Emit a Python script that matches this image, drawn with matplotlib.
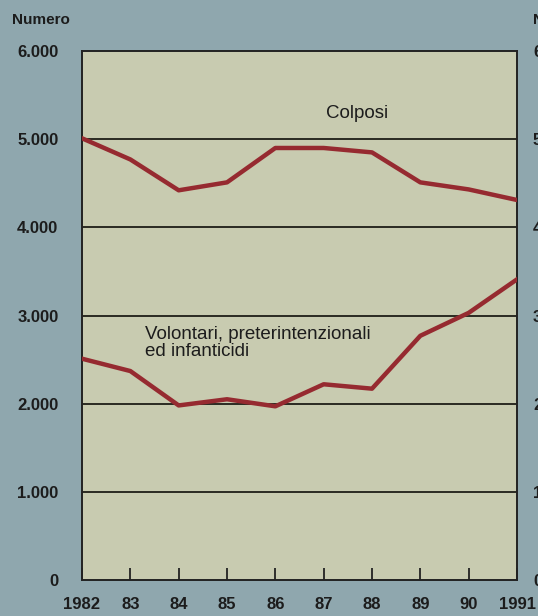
import matplotlib.pyplot as plt
import matplotlib.ticker as mticker

years = [1982, 1983, 1984, 1985, 1986, 1987, 1988, 1989, 1990, 1991]
year_labels = ['1982', '83', '84', '85', '86', '87', '88', '89', '90', '1991']
colposi = [5010, 4770, 4420, 4510, 4900, 4900, 4850, 4510, 4430, 4310]
volontari = [2510, 2370, 1980, 2050, 1970, 2220, 2170, 2770, 3030, 3410]
y_ticks = [0, 1000, 2000, 3000, 4000, 5000, 6000]

bg = '#8fa7ae'
panel = '#c8cbb0'
red = '#962a30'
ink = '#1c1c1c'
fnt = 'Liberation Sans'

fig = plt.figure(figsize=(5.38, 6.16), dpi=100, facecolor=bg)
ax = fig.add_axes([82/538, 1-580/616, 435/538, 529/616])
ax.set_facecolor(panel)

# gridlines
for v in y_ticks[1:-1]:
	ax.axhline(v, color='#2a2a22', lw=1.4, zorder=1)

ax.plot(years, colposi, color=red, lw=3.2, zorder=3)
ax.plot(years, volontari, color=red, lw=3.2, zorder=3)

ax.set_xlim(1982, 1991)
ax.set_ylim(0, 6000)

fmt = mticker.FuncFormatter(lambda v, p: '{:,.0f}'.format(v).replace(',', '.'))
ax.set_yticks(y_ticks)
ax.yaxis.set_major_formatter(fmt)
ax.tick_params(axis='y', length=0, pad=17, labelsize=12, labelcolor=ink)
ax.set_xticks(years)
ax.set_xticklabels(year_labels)
ax.tick_params(axis='x', direction='in', length=9, width=1.3, pad=12, labelsize=12, labelcolor=ink, color='#222')
for lab in ax.get_xticklabels() + ax.get_yticklabels():
	lab.set_fontweight('bold')
	lab.set_family(fnt)

for s in ax.spines.values():
	s.set_color('#222')
	s.set_linewidth(1.4)

# right axis, cut off at the page edge like the scan
ax2 = ax.twinx()
ax2.set_ylim(0, 6000)
ax2.set_yticks(y_ticks)
ax2.yaxis.set_major_formatter(fmt)
ax2.tick_params(axis='y', length=0, pad=11.5, labelsize=12, labelcolor=ink)
for lab in ax2.get_yticklabels():
	lab.set_fontweight('bold')
	lab.set_family(fnt)
for s in ax2.spines.values():
	s.set_visible(False)

fig.text(12/538, 1-20/616, 'Numero', fontsize=11, fontweight='bold', family=fnt, color=ink, va='center')
fig.text(533/538, 1-20/616, 'Numero', fontsize=11, fontweight='bold', family=fnt, color=ink, va='center')

ax.text(1987.7, 5290, 'Colposi', fontsize=13.5, family=fnt, color=ink, ha='center', va='center')
ax.text(1983.3, 2690, 'Volontari, preterintenzionali\ned infanticidi', fontsize=13.5, family=fnt,
	color=ink, ha='left', va='center', linespacing=1.0)

fig.savefig('out.png', dpi=100, facecolor=bg)
